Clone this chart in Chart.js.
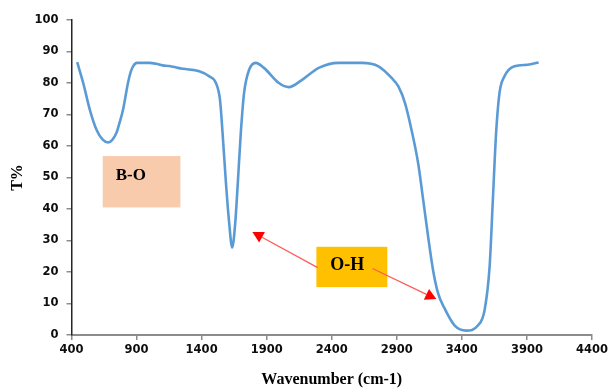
<!DOCTYPE html>
<html>
<head>
<meta charset="utf-8">
<script src="https://cdn.jsdelivr.net/npm/chart.js@4.4.1/dist/chart.umd.min.js"></script>
<style>
  html, body { margin: 0; padding: 0; background: #fff; overflow: hidden; }
  canvas { display: block; }
</style>
</head>
<body>
<canvas id="c" width="611" height="388"></canvas>
<script>
// ---- data ----
const wavenumbers = [444, 490, 541, 593, 640, 681, 712, 745, 770, 796, 834, 855, 873, 903, 1000, 1051, 1100, 1153, 1217, 1255, 1382, 1459, 1510, 1541, 1561, 1587, 1612, 1635, 1658, 1678, 1701, 1726, 1765, 1816, 1879, 1994, 2070, 2172, 2300, 2453, 2631, 2759, 2860, 2912, 2963, 3013, 3064, 3103, 3141, 3179, 3218, 3269, 3345, 3434, 3523, 3574, 3613, 3638, 3663, 3689, 3727, 3804, 3905, 3990];
const transmittance = [86.6, 80, 71.5, 65.1, 62, 61.1, 61.9, 64.1, 67.5, 71.5, 80, 83.5, 85.3, 86.4, 86.4, 86.1, 85.6, 85.4, 84.8, 84.5, 83.7, 82.1, 80, 74.7, 64.1, 48.2, 35.4, 27.8, 35.4, 48.2, 64.1, 76.8, 84.2, 86.4, 84.8, 80, 78.7, 81, 84.8, 86.4, 86.4, 85.3, 81.6, 78.9, 73.6, 65.1, 54.5, 42.8, 31.1, 20.5, 13.1, 8.3, 3.0, 1.4, 3.0, 7.8, 21.6, 42.8, 64.1, 76.8, 82.1, 85.3, 85.8, 86.5];
const xTickValues = [400, 900, 1400, 1900, 2400, 2900, 3400, 3900, 4400];
const yTickValues = [0, 10, 20, 30, 40, 50, 60, 70, 80, 90, 100];
const xTitle = 'Wavenumber (cm-1)';
const yTitle = 'T%';
const labelTexts = ['B-O', 'O-H'];

// ---- annotation layout (data coordinates) ----
const boxes = [
  { x0: 640, x1: 1237, y0: 40.5, y1: 56.8, fill: '#F8CBAD', text: labelTexts[0], tx: 740, ty: 50.5, size: 17 },
  { x0: 2282, x1: 2827, y0: 15.2, y1: 28, fill: '#FFC000', text: labelTexts[1], tx: 2389, ty: 22.1, size: 18 }
];
const arrows = [
  { fx: 2292, fy: 21.4, tx: 1790, ty: 32.7 },
  { fx: 2713, fy: 21.1, tx: 3204, ty: 11.4 }
];

const annotationPlugin = {
  id: 'annots',
  afterDatasetsDraw(chart) {
    const ctx = chart.ctx, xs = chart.scales.x, ys = chart.scales.y;
    ctx.save();
    boxes.forEach(b => {
      const l = xs.getPixelForValue(b.x0), r = xs.getPixelForValue(b.x1);
      const t = ys.getPixelForValue(b.y1), btm = ys.getPixelForValue(b.y0);
      ctx.fillStyle = b.fill;
      ctx.fillRect(l, t, r - l, btm - t);
      ctx.fillStyle = '#000';
      ctx.font = 'bold ' + b.size + 'px "Liberation Serif", "Times New Roman", serif';
      ctx.textAlign = 'left';
      ctx.textBaseline = 'middle';
      ctx.fillText(b.text, xs.getPixelForValue(b.tx), ys.getPixelForValue(b.ty));
    });
    arrows.forEach(a => {
      const x1 = xs.getPixelForValue(a.fx), y1 = ys.getPixelForValue(a.fy);
      const x2 = xs.getPixelForValue(a.tx), y2 = ys.getPixelForValue(a.ty);
      const ang = Math.atan2(y2 - y1, x2 - x1);
      const hl = 11, hw = 6;
      const bx = x2 - hl * Math.cos(ang), by = y2 - hl * Math.sin(ang);
      ctx.strokeStyle = '#FF5A5A';
      ctx.lineWidth = 1.3;
      ctx.beginPath();
      ctx.moveTo(x1, y1);
      ctx.lineTo(bx, by);
      ctx.stroke();
      ctx.fillStyle = '#FF0000';
      ctx.beginPath();
      ctx.moveTo(x2, y2);
      ctx.lineTo(bx + hw * Math.sin(ang), by - hw * Math.cos(ang));
      ctx.lineTo(bx - hw * Math.sin(ang), by + hw * Math.cos(ang));
      ctx.closePath();
      ctx.fill();
    });
    ctx.restore();
  }
};

const tickFont = { family: '"DejaVu Sans", sans-serif', size: 11.5, weight: 'bold' };
const titleFont = { family: '"Liberation Serif", "Times New Roman", serif', size: 16, weight: 'bold', lineHeight: 1 };

new Chart(document.getElementById('c'), {
  type: 'line',
  data: {
    datasets: [{
      data: wavenumbers.map((w, i) => ({ x: w, y: transmittance[i] })),
      borderColor: '#5B9BD5',
      borderWidth: 2.6,
      pointRadius: 0,
      fill: false,
      cubicInterpolationMode: 'monotone'
    }]
  },
  options: {
    responsive: false,
    animation: false,
    devicePixelRatio: 1,
    layout: { padding: { left: 0, right: 16, top: 20, bottom: 0 } },
    plugins: { legend: { display: false }, tooltip: { enabled: false } },
    scales: {
      x: {
        type: 'linear',
        min: 400, max: 4400,
        afterBuildTicks: s => { s.ticks = xTickValues.map(v => ({ value: v })); },
        afterFit: s => { s.height = 53; },
        ticks: { font: tickFont, color: '#0d0d0d', padding: 3, maxRotation: 0, autoSkip: false, callback: v => String(v) },
        grid: { drawOnChartArea: false, color: '#8c8c8c', tickLength: 5, lineWidth: 1.5 },
        border: { color: '#8c8c8c', width: 2 },
        title: { display: true, text: xTitle, font: titleFont, color: '#000', padding: { top: 0, bottom: 0 } }
      },
      y: {
        min: 0, max: 100,
        afterBuildTicks: s => { s.ticks = yTickValues.map(v => ({ value: v })); },
        afterFit: s => { s.width = 71.5; },
        ticks: { font: tickFont, color: '#0d0d0d', padding: 8, autoSkip: false, callback: v => String(v) },
        grid: { drawOnChartArea: false, color: '#8c8c8c', tickLength: 5, lineWidth: 1.5 },
        border: { color: '#262626', width: 1.5 },
        title: { display: true, text: yTitle, font: titleFont, color: '#000', padding: { top: 10, bottom: 0 } }
      }
    }
  },
  plugins: [annotationPlugin]
});
</script>
</body>
</html>
